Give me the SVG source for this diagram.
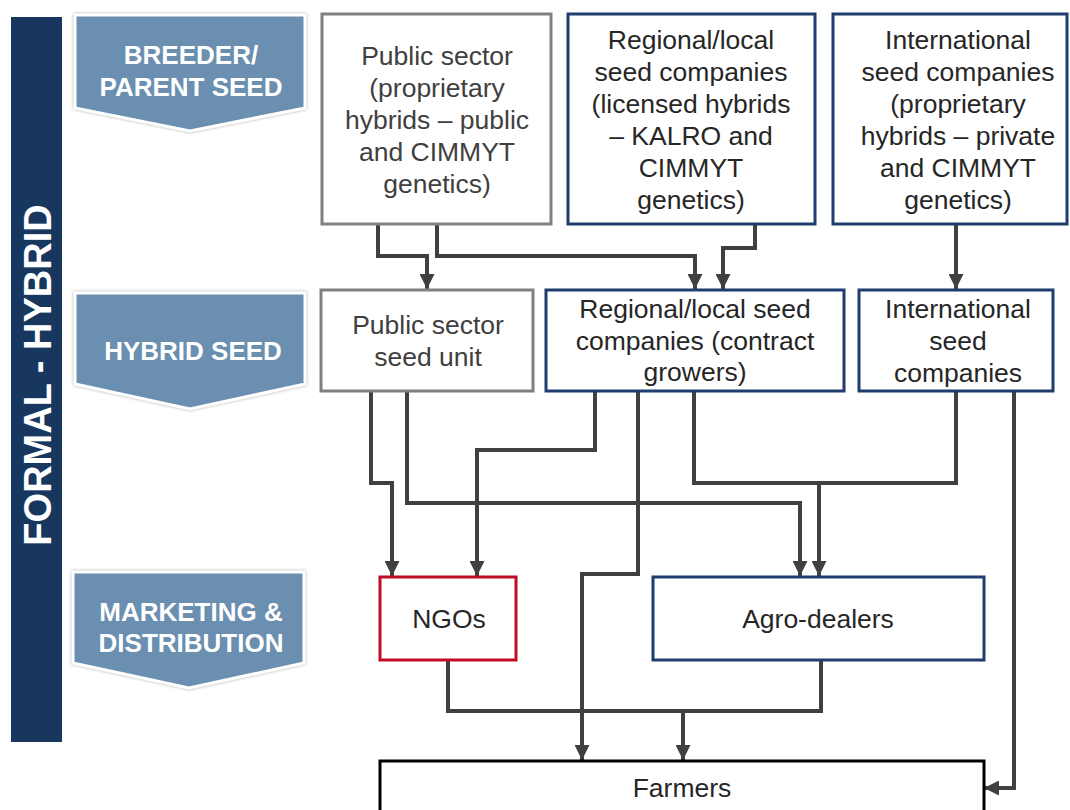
<svg xmlns="http://www.w3.org/2000/svg" width="1070" height="810" viewBox="0 0 1070 810">
  <style>
    .stage { fill: #6b8fb0; stroke: #ffffff; stroke-width: 3; filter: url(#halo); }
    .stage-text { font-family: "Liberation Sans", Arial, sans-serif; font-weight: bold; font-size: 26px; fill: #ffffff; text-anchor: middle; }
    .box { fill: #ffffff; stroke-width: 3; }
    .gray { stroke: #808080; }
    .navy { stroke: #1f3d6d; }
    .red { stroke: #c00d26; }
    .black { stroke: #000000; }
    .label { font-family: "Liberation Sans", Arial, sans-serif; font-size: 26.5px; text-anchor: middle; fill: #262626; }
    .label.soft { fill: #404040; }
    .link { fill: none; stroke: #404040; stroke-width: 4; stroke-linejoin: miter; }
    .arrow { marker-end: url(#head); }
  </style>
  <defs>
    <marker id="head" viewBox="0 0 10 10" refX="10" refY="5" markerWidth="15" markerHeight="15" markerUnits="userSpaceOnUse" orient="auto">
      <path d="M0,0 L10,5 L0,10 z" fill="#404040"/>
    </marker>
    <filter id="halo" x="-10%" y="-10%" width="120%" height="120%">
      <feDropShadow dx="0" dy="0" stdDeviation="1.5" flood-color="#7f7f7f" flood-opacity="0.7"/>
    </filter>
  </defs>

  <rect width="1070" height="810" fill="#ffffff"/>

  <!-- side band -->
  <g id="band">
    <rect x="11" y="17" width="51" height="725" fill="#17375e"/>
    <text transform="translate(51,375) rotate(-90)" font-family="Liberation Sans, Arial, sans-serif" font-weight="bold" font-size="38" fill="#ffffff" text-anchor="middle">FORMAL - HYBRID</text>
  </g>

  <!-- stage chevrons -->
  <g id="stage-breeder">
    <polygon class="stage" points="75,15 305,15 305,108 190,131 75,108"/>
    <text class="stage-text" x="191" y="64">BREEDER/</text>
    <text class="stage-text" x="191" y="96">PARENT SEED</text>
  </g>
  <g id="stage-hybrid">
    <polygon class="stage" points="75,293 305,293 305,384 190,409 75,384"/>
    <text class="stage-text" x="193" y="360">HYBRID SEED</text>
  </g>
  <g id="stage-marketing">
    <polygon class="stage" points="73,572 304,572 304,663 189,688 73,663"/>
    <text class="stage-text" x="191" y="621">MARKETING &amp;</text>
    <text class="stage-text" x="191" y="652">DISTRIBUTION</text>
  </g>

  <!-- connectors -->
  <g id="connectors">
    <path class="link arrow" d="M378,224 V256 H427 V289"/>
    <path class="link arrow" d="M437,224 V256 H695 V289"/>
    <path class="link arrow" d="M755,224 V248 H723 V289"/>
    <path class="link arrow" d="M956,224 V289"/>
    <path class="link arrow" d="M371,391 V483 H392 V576"/>
    <path class="link arrow" d="M407,391 V503 H800 V576"/>
    <path class="link arrow" d="M595,391 V450 H477 V576"/>
    <path class="link arrow" d="M638,391 V574 H582 V760"/>
    <path class="link" d="M694,391 V483 H956 V391"/>
    <path class="link arrow" d="M819,483 V576"/>
    <path class="link arrow" d="M1014,391 V788 H984"/>
    <path class="link" d="M448,660 V711 H821 V660"/>
    <path class="link arrow" d="M683,711 V760"/>
  </g>

  <!-- breeder / parent seed -->
  <g id="public-breeder">
    <rect class="box gray" x="322" y="14" width="229" height="210"/>
    <text class="label soft" x="437" y="65">Public sector</text>
    <text class="label soft" x="437" y="97">(proprietary</text>
    <text class="label soft" x="437" y="129">hybrids – public</text>
    <text class="label soft" x="437" y="161">and CIMMYT</text>
    <text class="label soft" x="437" y="193">genetics)</text>
  </g>
  <g id="regional-breeder">
    <rect class="box navy" x="568" y="14" width="247" height="210"/>
    <text class="label" x="691" y="49">Regional/local</text>
    <text class="label" x="691" y="81">seed companies</text>
    <text class="label" x="691" y="113">(licensed hybrids</text>
    <text class="label" x="691" y="145">– KALRO and</text>
    <text class="label" x="691" y="177">CIMMYT</text>
    <text class="label" x="691" y="209">genetics)</text>
  </g>
  <g id="international-breeder">
    <rect class="box navy" x="833" y="14" width="234" height="210"/>
    <text class="label" x="958" y="49">International</text>
    <text class="label" x="958" y="81">seed companies</text>
    <text class="label" x="958" y="113">(proprietary</text>
    <text class="label" x="958" y="145">hybrids – private</text>
    <text class="label" x="958" y="177">and CIMMYT</text>
    <text class="label" x="958" y="209">genetics)</text>
  </g>

  <!-- hybrid seed -->
  <g id="public-seed-unit">
    <rect class="box gray" x="321" y="290" width="212" height="101"/>
    <text class="label soft" x="428" y="334">Public sector</text>
    <text class="label soft" x="428" y="366">seed unit</text>
  </g>
  <g id="regional-contract">
    <rect class="box navy" x="546" y="290" width="298" height="101"/>
    <text class="label" x="695" y="318">Regional/local seed</text>
    <text class="label" x="695" y="350">companies (contract</text>
    <text class="label" x="695" y="381">growers)</text>
  </g>
  <g id="international-seed">
    <rect class="box navy" x="859" y="290" width="194" height="101"/>
    <text class="label" x="958" y="318">International</text>
    <text class="label" x="958" y="350">seed</text>
    <text class="label" x="958" y="382">companies</text>
  </g>

  <!-- marketing & distribution -->
  <g id="ngos">
    <rect class="box red" x="380" y="577" width="136" height="83"/>
    <text class="label" x="449" y="628">NGOs</text>
  </g>
  <g id="agro-dealers">
    <rect class="box navy" x="653" y="577" width="331" height="83"/>
    <text class="label" x="818" y="628">Agro-dealers</text>
  </g>

  <g id="farmers">
    <rect class="box black" x="380" y="761" width="604" height="70"/>
    <text class="label" x="682" y="797">Farmers</text>
  </g>
</svg>
